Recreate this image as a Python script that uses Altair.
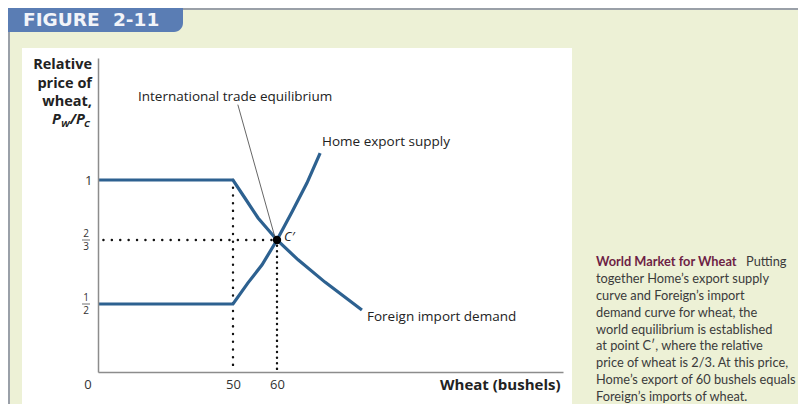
import altair as alt
import pandas as pd

# ---------------- data ----------------
home_x = [0, 50, 53.4, 56.6, 60, 63.4, 66.8, 69.8]
home_y = [0.5, 0.5, 0.555, 0.602, 0.6667, 0.822, 0.983, 1.15]
foreign_x = [0, 50, 52.7, 55.7, 60, 64.8, 70.9, 79.3]
foreign_y = [1, 1, 0.9, 0.789, 0.6667, 0.615, 0.557, 0.456]
eq_x = [60]
eq_y = [0.6667]
kink_x = 50
x_tick_values = [50, 60]
y_tick_values = [1]
frac_values = [0.6667, 0.5]
frac_num = ["2", "1"]
frac_den = ["3", "2"]
caption_head = "World Market for Wheat"
caption_first_rest = "Putting"
caption_lines = [
    "together Home\u2019s export supply",
    "curve and Foreign\u2019s import",
    "demand curve for wheat, the",
    "world equilibrium is established",
    "at point C\u2032, where the relative",
    "price of wheat is 2/3. At this price,",
    "Home\u2019s export of 60 bushels equals",
    "Foreign\u2019s imports of wheat.",
]
y_title_lines = ["Relative", "price of", "wheat,"]

# ---------------- layout (schematic, piecewise scales) ----------------
W, H = 464, 314
x_domain = [0, 50, 60, 125]
x_range = [0, 135, 179, 465]
y_domain = [0, 0.5, 0.6667, 1, 1.68]
y_range = [314, 246, 182, 122, 0]

BLUE = "#2d6190"
FONT = "Open Sans"
CAPFONT = "Lato"

xs = alt.Scale(type="linear", domain=x_domain, range=x_range, nice=False, zero=False)
ys = alt.Scale(type="linear", domain=y_domain, range=y_range, nice=False, zero=False)

xaxis = alt.Axis(values=x_tick_values, title="Wheat (bushels)", grid=False, ticks=False,
                 tickSize=0, labelPadding=6, labelFont=FONT, labelFontSize=13,
                 labelColor="#333333", domainColor="#8c8c8c", domainWidth=1.5,
                 titleX=462, titleY=12, titleAlign="right", titleBaseline="middle",
                 titleFont=FONT, titleFontSize=15, titleFontWeight="bold",
                 titleColor="#222222", labelFlush=False, zindex=1)
yaxis = alt.Axis(values=y_tick_values, title=None, grid=False, ticks=False, tickSize=0,
                 labelPadding=6, labelFont=FONT, labelFontSize=13, labelColor="#333333",
                 domainColor="#8c8c8c", domainWidth=1.5, labelFlush=False, zindex=1)

X = lambda f="x": alt.X(f"{f}:Q", scale=xs, axis=xaxis)
Y = lambda f="y": alt.Y(f"{f}:Q", scale=ys, axis=yaxis)

one = pd.DataFrame({"k": [0]})


def vrect(x1, x2, y1, y2, color, **kw):
    return alt.Chart(one).mark_rect(color=color, **kw).encode(
        x=alt.value(x1), x2=alt.value(x2), y=alt.value(y1), y2=alt.value(y2))


def vtext(txt, x, y, **kw):
    return alt.Chart(one).mark_text(text=txt, **kw).encode(x=alt.value(x), y=alt.value(y))


layers = []
# frame
layers.append(vrect(-76, 474, -10, 347, "white"))
layers.append(vrect(-90, 85, -50, -26, "#5a7db4", cornerRadiusBottomRight=9))
layers.append(alt.Chart(one).mark_rule(color="#9aa0a8", strokeWidth=2).encode(
    x=alt.value(85), x2=alt.value(720), y=alt.value(-49)))
layers.append(alt.Chart(one).mark_rule(color="#9aa0a8", strokeWidth=2).encode(
    x=alt.value(-89), y=alt.value(-26), y2=alt.value(360)))
tab = dict(align="left", baseline="middle", font="DejaVu Sans", fontSize=18.5,
           fontWeight="bold", color="#f2f4f9")
layers.append(vtext("FIGURE", -75, -38, **tab))
layers.append(vtext("2-11", 15, -38, **tab))

# dotted guides
hdot = pd.DataFrame({"x": [2], "x2": [eq_x[0]], "y": [eq_y[0]]})
layers.append(alt.Chart(hdot).mark_rule(color="#111111", strokeWidth=2.4, strokeCap="round",
                                        strokeDash=[0.1, 8.3]).encode(
    x=X(), x2="x2:Q", y=Y()))
vdot50 = pd.DataFrame({"x": [kink_x], "y": [1], "y2": [0]})
layers.append(alt.Chart(vdot50).mark_rule(color="#111111", strokeWidth=2.4, strokeCap="round",
                                          strokeDash=[0.1, 7.6]).encode(
    x=X(), y=Y(), y2="y2:Q"))
vdot60 = pd.DataFrame({"x": eq_x, "y": eq_y, "y2": [0]})
layers.append(alt.Chart(vdot60).mark_rule(color="#111111", strokeWidth=2.4, strokeCap="round",
                                          strokeDash=[0.1, 5.5]).encode(
    x=X(), y=Y(), y2="y2:Q"))

# curves
curves = pd.concat([
    pd.DataFrame({"x": home_x, "y": home_y, "s": "Home export supply",
                  "o": range(len(home_x))}),
    pd.DataFrame({"x": foreign_x, "y": foreign_y, "s": "Foreign import demand",
                  "o": range(len(foreign_x))}),
])
layers.append(alt.Chart(curves).mark_line(color=BLUE, strokeWidth=3.2).encode(
    x=X(), y=Y(), detail="s:N", order="o:Q"))

# leader line for the equilibrium annotation
leader = pd.DataFrame({"x": [51.1], "y": [1.42], "x2": [59.6], "y2": [0.676]})
layers.append(alt.Chart(leader).mark_rule(color="#555555", strokeWidth=0.9).encode(
    x=X(), y=Y(), x2="x2:Q", y2="y2:Q"))

# equilibrium point
eq = pd.DataFrame({"x": eq_x, "y": eq_y})
layers.append(alt.Chart(eq).mark_point(filled=True, color="black", size=70, opacity=1).encode(
    x=X(), y=Y()))
layers.append(alt.Chart(eq).mark_text(text="C\u2032", align="left", baseline="middle", dx=7, dy=-3,
                                      font=FONT, fontSize=13, fontStyle="italic",
                                      color="#222222").encode(x=X(), y=Y()))

# fraction tick labels
fr = pd.DataFrame({"y": frac_values, "n": frac_num, "d": frac_den})
layers.append(alt.Chart(fr).mark_text(align="center", baseline="middle", dy=-6, font=FONT,
                                      fontSize=10, color="#333333").encode(
    x=alt.value(-12), y=Y(), text="n:N"))
layers.append(alt.Chart(fr).mark_text(align="center", baseline="middle", dy=7, font=FONT,
                                      fontSize=10, color="#333333").encode(
    x=alt.value(-12), y=Y(), text="d:N"))
layers.append(alt.Chart(fr).mark_tick(orient="horizontal", color="#333333", thickness=1,
                                      size=8).encode(x=alt.value(-12), y=Y()))
# origin label
layers.append(vtext("0", -10, 327, align="center", baseline="middle", font=FONT,
                    fontSize=13, color="#333333"))

# annotations
ann = dict(align="left", baseline="middle", font=FONT, fontSize=13.5, color="#222222")
layers.append(vtext("International trade equilibrium", 40, 39, **ann))
layers.append(vtext("Home export supply", 224, 84, **ann))
layers.append(vtext("Foreign import demand", 269, 259, **ann))

# y axis title
layers.append(vtext(y_title_lines, -6, 7, align="right", baseline="middle", font=FONT,
                    fontSize=14.5, fontWeight="bold", color="#222222", lineHeight=18.5))
pw = dict(baseline="middle", font=FONT, fontWeight="bold", fontStyle="italic", color="#222222",
          align="left")
layers.append(vtext("P", -46, 62, fontSize=14.5, **pw))
layers.append(vtext("W", -37, 66, fontSize=9.5, **pw))
layers.append(vtext("/P", -28, 62, fontSize=14.5, **pw))
layers.append(vtext("C", -14, 66, fontSize=9.5, **pw))

# caption
layers.append(vtext(caption_head, 498, 204, align="left", baseline="middle", font=CAPFONT,
                    fontSize=12.8, fontWeight="bold", color="#6d1f45"))
layers.append(vtext(caption_first_rest, 648, 204, align="left", baseline="middle",
                    font=CAPFONT, fontSize=12.8, color="#3b3b3b"))
layers.append(vtext(caption_lines, 498, 220.9, align="left", baseline="middle", font=CAPFONT,
                    fontSize=12.8, color="#3b3b3b", lineHeight=16.9))

chart = alt.layer(*layers).properties(
    width=W, height=H,
    autosize=alt.AutoSizeParams(type="none"),
    padding={"left": 90, "top": 50, "right": 236, "bottom": 32},
).configure(background="#edf1d6").configure_view(stroke=None)

chart.save("out.html", embed_options={"renderer": "svg", "actions": False})
